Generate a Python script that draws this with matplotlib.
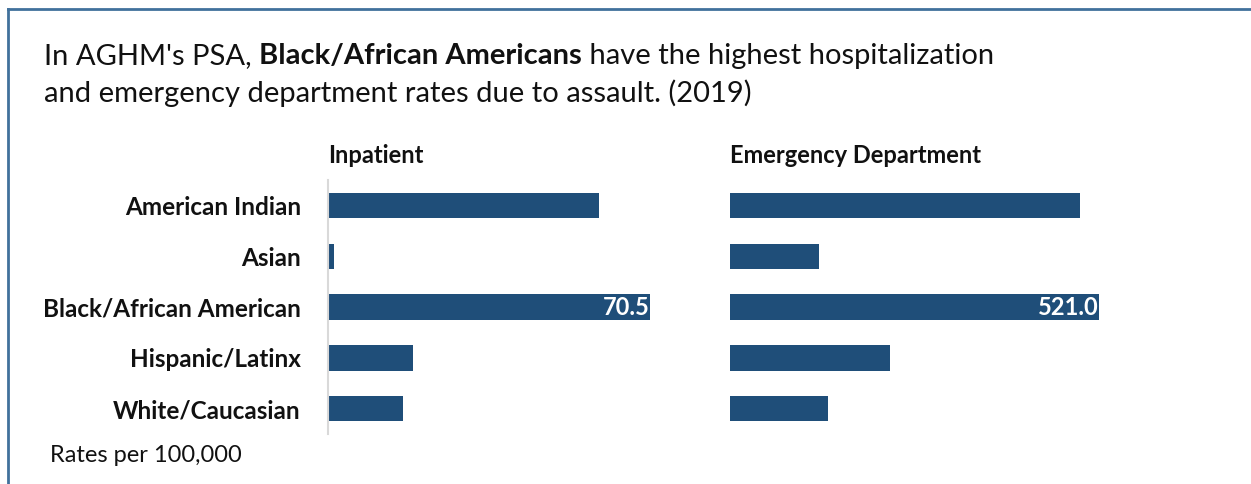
import matplotlib.pyplot as plt
from matplotlib.lines import Line2D

plt.rcParams['font.family'] = ['Lato', 'DejaVu Sans']

categories = ['American Indian', 'Asian', 'Black/African American', 'Hispanic/Latinx', 'White/Caucasian']
inpatient = [59.3, 1.3, 70.5, 18.6, 16.4]
emergency = [494.0, 125.7, 521.0, 226.0, 138.0]
label_idx = 2  # only the highest bar carries a value label

bar_color = '#1F4E79'
W, H = 1251, 484

fig = plt.figure(figsize=(W / 100, H / 100), dpi=100)


def box(x0, x1, y0, y1):
    # pixel box (top-left origin) -> figure fraction rect
    return [x0 / W, 1 - y1 / H, (x1 - x0) / W, (y1 - y0) / H]


# frame lines (top and left only visible)
fig.add_artist(Line2D([8 / W, 1], [1 - 9 / H, 1 - 9 / H], color='#41719C', lw=2))
fig.add_artist(Line2D([8 / W, 8 / W], [0, 1 - 9 / H], color='#41719C', lw=2))

# title with a bold part
renderer = fig.canvas.get_renderer()
tsize = 21
t1 = fig.text(44 / W, 1 - 64 / H, "In AGHM's PSA, ", fontsize=tsize, color='#111111')
bb = t1.get_window_extent(renderer)
t2 = fig.text(bb.x1 / W, 1 - 64 / H, 'Black/African Americans', fontsize=tsize, fontweight='bold', color='#111111')
bb = t2.get_window_extent(renderer)
fig.text(bb.x1 / W, 1 - 64 / H, ' have the highest hospitalization', fontsize=tsize, color='#111111')
fig.text(44 / W, 1 - 102 / H, 'and emergency department rates due to assault. (2019)', fontsize=tsize, color='#111111')

ax1 = fig.add_axes(box(328, 650, 180, 434))
ax2 = fig.add_axes(box(730, 1099, 180, 434))

for ax, vals, title in [(ax1, inpatient, 'Inpatient'),
                        (ax2, emergency, 'Emergency Department')]:
    y = range(len(categories))
    ax.barh(y, vals, height=0.5, color=bar_color)
    ax.set_xlim(0, vals[label_idx])
    ax.set_ylim(len(categories) - 0.5, -0.5)
    for s in ax.spines.values():
        s.set_visible(False)
    ax.set_xticks([])
    ax.set_yticks([])
    ax.text(0, 1.05, title, transform=ax.transAxes, fontsize=17, fontweight='bold',
            va='bottom', ha='left', color='#111111')
    ax.text(vals[label_idx], label_idx, '{:.1f}'.format(vals[label_idx]),
            ha='right', va='center', color='white', fontsize=17, fontweight='bold')

ax1.spines['left'].set_visible(True)
ax1.spines['left'].set_color('#D9D9D9')
ax1.spines['left'].set_linewidth(1.5)
ax1.set_yticks(range(len(categories)))
ax1.set_yticklabels(categories, fontsize=17.5, fontweight='bold', color='#111111')
ax1.tick_params(axis='y', length=0, pad=19.5)

fig.text(50 / W, 1 - 455 / H, 'Rates per 100,000', fontsize=17, va='center', color='#111111')

fig.savefig('out.png', dpi=100)
